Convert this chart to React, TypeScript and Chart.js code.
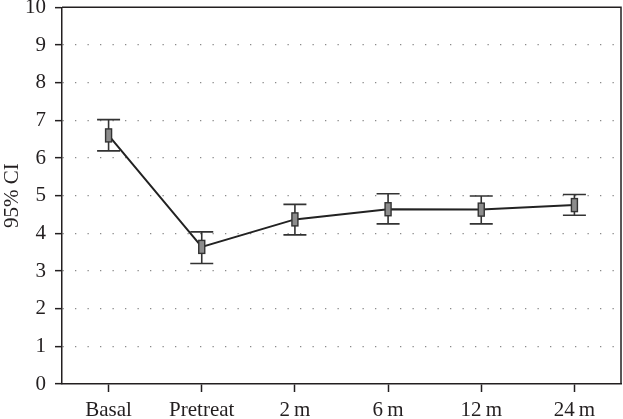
import React, { useEffect, useRef } from "react";
import { Chart, registerables } from "chart.js";

Chart.register(...registerables);

const categories = ["Basal", "Pretreat", "2\u2009m", "6\u2009m", "12\u2009m", "24\u2009m"];
const means = [6.6, 3.64, 4.37, 4.64, 4.63, 4.75];
const ciLow = [6.19, 3.2, 3.96, 4.25, 4.25, 4.48];
const ciHigh = [7.02, 4.04, 4.77, 5.05, 4.99, 5.03];
const yTitle = "95% CI";

const INK = "#231f20";
const FONT = "'Liberation Serif', 'Times New Roman', serif";

const errorPlugin = {
  id: "errorBoxes",
  afterDatasetsDraw(chart: any) {
    const { ctx, scales } = chart;
    const xs = scales.x;
    const ys = scales.y;
    ctx.save();
    ctx.strokeStyle = "#333";
    ctx.lineWidth = 1.6;
    for (let i = 0; i < means.length; i++) {
      const x = xs.getPixelForValue(i);
      const yt = ys.getPixelForValue(ciHigh[i]);
      const yb = ys.getPixelForValue(ciLow[i]);
      ctx.beginPath();
      ctx.moveTo(x, yt);
      ctx.lineTo(x, yb);
      ctx.moveTo(x - 11.5, yt);
      ctx.lineTo(x + 11.5, yt);
      ctx.moveTo(x - 11.5, yb);
      ctx.lineTo(x + 11.5, yb);
      ctx.stroke();
    }
    for (let i = 0; i < means.length; i++) {
      const x = xs.getPixelForValue(i);
      const y = ys.getPixelForValue(means[i]);
      ctx.fillStyle = "#8c8c8c";
      ctx.fillRect(x - 3, y - 6.5, 6, 13);
      ctx.lineWidth = 1.4;
      ctx.strokeStyle = "#333";
      ctx.strokeRect(x - 3, y - 6.5, 6, 13);
    }
    ctx.restore();
  },
  afterDraw(chart: any) {
    const { ctx, chartArea } = chart;
    ctx.save();
    ctx.strokeStyle = INK;
    ctx.lineWidth = 1.5;
    ctx.beginPath();
    ctx.moveTo(chartArea.left, chartArea.top);
    ctx.lineTo(chartArea.right, chartArea.top);
    ctx.lineTo(chartArea.right, chartArea.bottom);
    ctx.stroke();
    ctx.restore();
  },
};

export default function App() {
  const ref = useRef<HTMLCanvasElement>(null);
  useEffect(() => {
    if (!ref.current) return;
    const chart = new Chart(ref.current, {
      type: "line",
      data: {
        labels: categories,
        datasets: [
          {
            data: means,
            borderColor: "#222",
            borderWidth: 2,
            pointRadius: 0,
            tension: 0,
          },
        ],
      },
      options: {
        animation: false,
        responsive: true,
        maintainAspectRatio: false,
        layout: { padding: { top: 0, right: 2, left: 0, bottom: 0 } },
        plugins: { legend: { display: false }, tooltip: { enabled: false } },
        scales: {
          x: {
            offset: true,
            grid: {
              offset: false,
              drawOnChartArea: false,
              drawTicks: true,
              tickLength: 8,
              tickColor: INK,
              tickWidth: 1.5,
            },
            border: { display: true, color: INK, width: 1.5 },
            ticks: {
              color: INK,
              padding: 6,
              font: { family: FONT, size: 21 },
              maxRotation: 0,
              autoSkip: false,
            },
            afterFit: (s: any) => {
              s.height = 35;
            },
          },
          y: {
            min: 0,
            max: 10,
            ticks: {
              stepSize: 1,
              color: INK,
              padding: 9,
              font: { family: FONT, size: 21, lineHeight: 0.7 },
            },
            grid: {
              drawTicks: true,
              tickLength: 7,
              tickColor: INK,
              tickWidth: 1.5,
              tickBorderDash: [],
              lineWidth: 1.3,
              color: (ctx: any) =>
                ctx.tick && (ctx.tick.value === 0 || ctx.tick.value === 10)
                  ? "rgba(0,0,0,0)"
                  : "#8a8a8a",
            },
            border: { display: true, color: INK, width: 1.5, dash: [1.3, 11.2] },
            title: {
              display: true,
              text: yTitle,
              color: INK,
              font: { family: FONT, size: 21 },
              padding: { top: 0, bottom: 0 },
            },
            afterFit: (s: any) => {
              s.width = 62;
            },
          },
        },
      },
      plugins: [errorPlugin],
    });
    return () => chart.destroy();
  }, []);
  return (
    <div style={{ position: "absolute", left: 0, top: -9, width: 623, height: 428 }}>
      <canvas ref={ref} />
    </div>
  );
}
